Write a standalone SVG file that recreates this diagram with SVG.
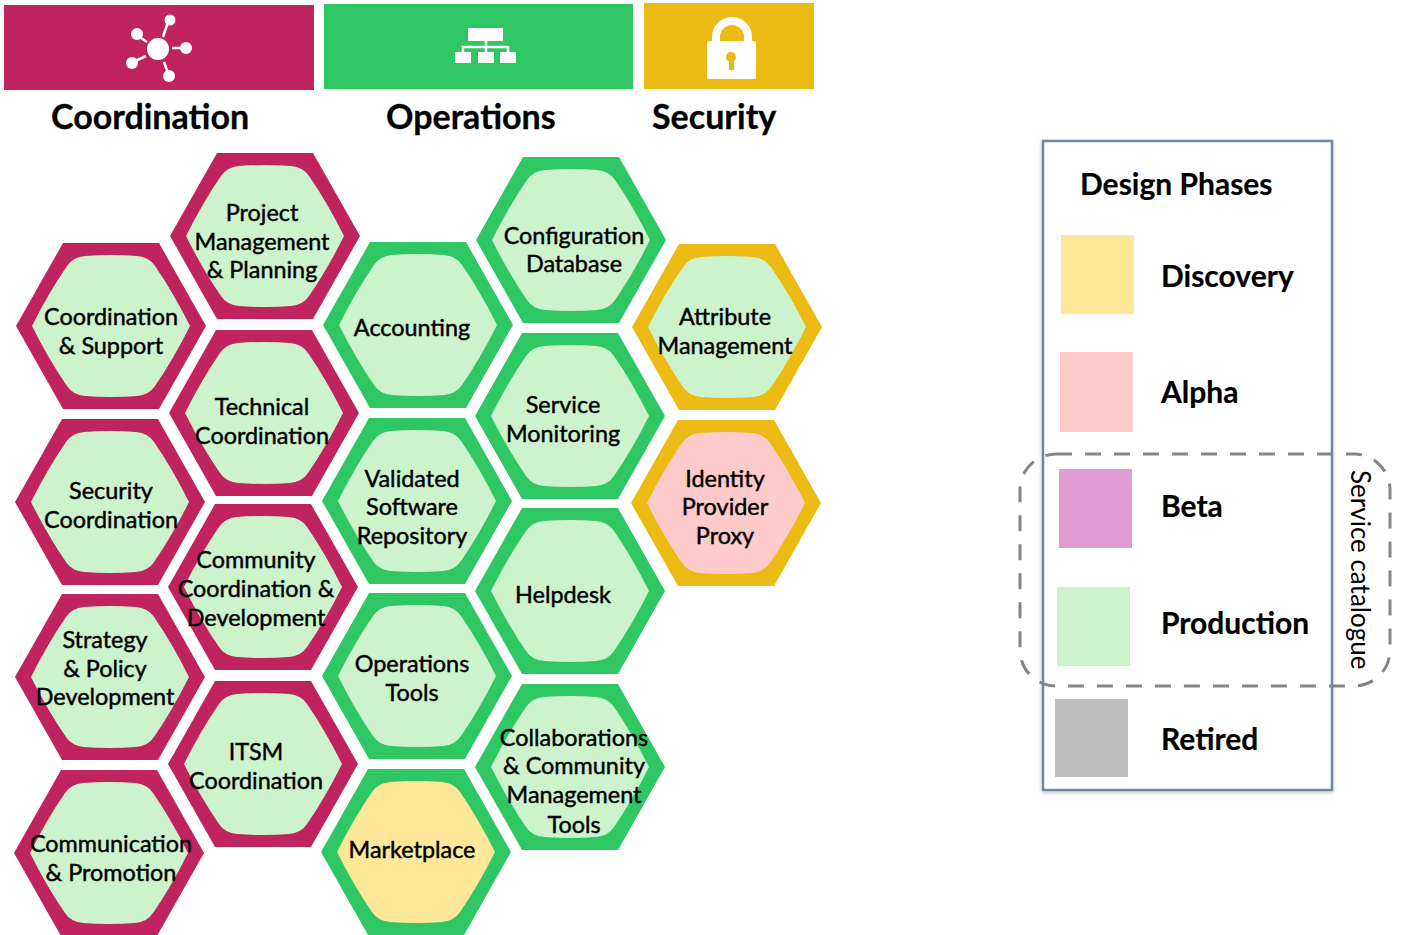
<svg xmlns="http://www.w3.org/2000/svg" width="1404" height="935" viewBox="0 0 1404 935">
<style>
text{font-family:"Lato","Liberation Sans",sans-serif;fill:#000}
.h{font-size:34px;font-weight:700;stroke:#000;stroke-width:.3px}
.n{font-size:23.400px;font-weight:400;text-anchor:middle;stroke:#000;stroke-width:.45px}
.l{font-size:30px;font-weight:700;stroke:#000;stroke-width:.2px}
.co{fill:#bf245f}.op{fill:#2fc763}.se{fill:#ebbb13}
.prod{fill:#cdf3cd}.disc{fill:#ffe799}.alpha{fill:#ffcaca}
.ic{fill:#fff}.icl{stroke:#fff;stroke-width:2.500;fill:none}
</style>
<defs>
<polygon id="ho" points="-95,0 -48,-83 48,-83 95,0 48,83 -48,83"/>
<path id="hi" d="M-79,0 Q-62,-34 -44,-60 Q-38,-69 -26,-70 Q0,-72 26,-70 Q38,-69 44,-60 Q62,-34 79,0 Q62,34 44,60 Q38,69 26,70 Q0,72 -26,70 Q-38,69 -44,60 Q-62,34 -79,0 Z"/>
<filter id="sh" x="-5%" y="-5%" width="110%" height="110%"><feDropShadow dx="0" dy="2" stdDeviation="2" flood-color="#000" flood-opacity=".2"/></filter>
</defs>
<g id="header-coordination">
<rect x="4" y="5" width="310" height="85" class="co"/>
<g class="icl"><path d="M163 37 169 19M147 42 138 36M172 48 187 48M146 56 131 63M164 62 169 76"/></g>
<g class="ic"><circle cx="158" cy="49" r="11"/><circle cx="170" cy="20" r="5.500"/><circle cx="137" cy="34" r="6"/><circle cx="186" cy="48" r="6"/><circle cx="132" cy="63" r="6"/><circle cx="169" cy="76" r="6"/></g>
<text class="h" x="51" y="129">Coordination</text>
</g>
<g id="header-operations">
<rect x="324" y="4" width="309" height="85" class="op"/>
<g class="ic"><rect x="468" y="28" width="35" height="13"/><rect x="455" y="52" width="16" height="11"/><rect x="478" y="52" width="16" height="11"/><rect x="500" y="52" width="16" height="11"/></g>
<path class="icl" d="M486 41V52M463 52V47H508V52"/>
<text class="h" x="386" y="129">Operations</text>
</g>
<g id="header-security">
<rect x="644" y="3" width="170" height="86" class="se"/>
<rect x="707" y="41" width="49" height="38" rx="2" class="ic"/>
<path d="M716 42V37a16 16 0 0 1 32 0V42" fill="none" stroke="#fff" stroke-width="8"/>
<circle cx="731" cy="57" r="5" fill="#ebbb13"/><rect x="729" y="58" width="5" height="12" fill="#ebbb13"/>
<text class="h" x="652" y="129">Security</text>
</g>

<g id="project-management"><use href="#ho" x="265" y="236" class="co"/><use href="#hi" x="265" y="236" class="prod"/><text class="n" x="262" y="221">Project</text><text class="n" x="262" y="250">Management</text><text class="n" x="262" y="278">&amp; Planning</text></g>
<g id="coordination-support"><use href="#ho" x="111" y="326" class="co"/><use href="#hi" x="111" y="326" class="prod"/><text class="n" x="111" y="325">Coordination</text><text class="n" x="111" y="354">&amp; Support</text></g>
<g id="technical-coordination"><use href="#ho" x="264" y="413" class="co"/><use href="#hi" x="264" y="413" class="prod"/><text class="n" x="262" y="415">Technical</text><text class="n" x="262" y="444">Coordination</text></g>
<g id="security-coordination"><use href="#ho" x="110" y="502" class="co"/><use href="#hi" x="110" y="502" class="prod"/><text class="n" x="111" y="499">Security</text><text class="n" x="111" y="528">Coordination</text></g>
<g id="community-coordination"><use href="#ho" x="263" y="587" class="co"/><use href="#hi" x="263" y="587" class="prod"/><text class="n" x="256" y="568">Community</text><text class="n" x="256" y="597">Coordination &amp;</text><text class="n" x="256" y="626">Development</text></g>
<g id="strategy-policy"><use href="#ho" x="110" y="677" class="co"/><use href="#hi" x="110" y="677" class="prod"/><text class="n" x="105" y="648">Strategy</text><text class="n" x="105" y="677">&amp; Policy</text><text class="n" x="105" y="705">Development</text></g>
<g id="itsm-coordination"><use href="#ho" x="263" y="764" class="co"/><use href="#hi" x="263" y="764" class="prod"/><text class="n" x="256" y="760">ITSM</text><text class="n" x="256" y="789">Coordination</text></g>
<g id="communication-promotion"><use href="#ho" x="109" y="853" class="co"/><use href="#hi" x="109" y="853" class="prod"/><text class="n" x="111" y="852">Communication</text><text class="n" x="111" y="881">&amp; Promotion</text></g>

<g id="accounting"><use href="#ho" x="418" y="325" class="op"/><use href="#hi" x="418" y="325" class="prod"/><text class="n" x="412" y="336">Accounting</text></g>
<g id="configuration-database"><use href="#ho" x="571" y="240" class="op"/><use href="#hi" x="571" y="240" class="prod"/><text class="n" x="574" y="244">Configuration</text><text class="n" x="574" y="272">Database</text></g>
<g id="service-monitoring"><use href="#ho" x="570" y="416" class="op"/><use href="#hi" x="570" y="416" class="prod"/><text class="n" x="563" y="413">Service</text><text class="n" x="563" y="442">Monitoring</text></g>
<g id="validated-software"><use href="#ho" x="417" y="501" class="op"/><use href="#hi" x="417" y="501" class="prod"/><text class="n" x="412" y="487">Validated</text><text class="n" x="412" y="515">Software</text><text class="n" x="412" y="544">Repository</text></g>
<g id="helpdesk"><use href="#ho" x="570" y="591" class="op"/><use href="#hi" x="570" y="591" class="prod"/><text class="n" x="563" y="603">Helpdesk</text></g>
<g id="operations-tools"><use href="#ho" x="417" y="676" class="op"/><use href="#hi" x="417" y="676" class="prod"/><text class="n" x="412" y="672">Operations</text><text class="n" x="412" y="701">Tools</text></g>
<g id="collaborations"><use href="#ho" x="570" y="767" class="op"/><use href="#hi" x="570" y="767" class="prod"/><text class="n" x="574" y="746">Collaborations</text><text class="n" x="574" y="774">&amp; Community</text><text class="n" x="574" y="803">Management</text><text class="n" x="574" y="833">Tools</text></g>
<g id="marketplace"><use href="#ho" x="416" y="852" class="op"/><use href="#hi" x="416" y="852" class="disc"/><text class="n" x="412" y="858">Marketplace</text></g>

<g id="attribute-management"><use href="#ho" x="727" y="327" class="se"/><use href="#hi" x="727" y="327" class="prod"/><text class="n" x="725" y="325">Attribute</text><text class="n" x="725" y="354">Management</text></g>
<g id="identity-provider"><use href="#ho" x="726" y="503" class="se"/><use href="#hi" x="726" y="503" class="alpha"/><text class="n" x="725" y="487">Identity</text><text class="n" x="725" y="515">Provider</text><text class="n" x="725" y="544">Proxy</text></g>

<g id="legend">
<rect x="1043" y="141" width="289" height="649" fill="#fff" stroke="#6f86a3" stroke-width="2.500" filter="url(#sh)"/>
<text class="l" x="1080" y="195">Design Phases</text>
<rect x="1061" y="235" width="73" height="79" fill="#ffe799"/>
<text class="l" x="1161" y="287">Discovery</text>
<rect x="1060" y="352" width="73" height="80" fill="#ffcaca"/>
<text class="l" x="1161" y="403">Alpha</text>
<rect x="1059" y="469" width="73" height="79" fill="#e09bd3"/>
<text class="l" x="1161" y="517">Beta</text>
<rect x="1057" y="587" width="73" height="79" fill="#cdf3cd"/>
<text class="l" x="1161" y="634">Production</text>
<rect x="1055" y="699" width="73" height="78" fill="#bdbdbd"/>
<text class="l" x="1161" y="750">Retired</text>
</g>
<g id="service-catalogue">
<rect x="1020" y="454" width="370" height="232" rx="36" fill="none" stroke="#858585" stroke-width="3" stroke-dasharray="16 13"/>
<text transform="translate(1351 470) rotate(90)" font-size="26">Service catalogue</text>
</g>
</svg>
